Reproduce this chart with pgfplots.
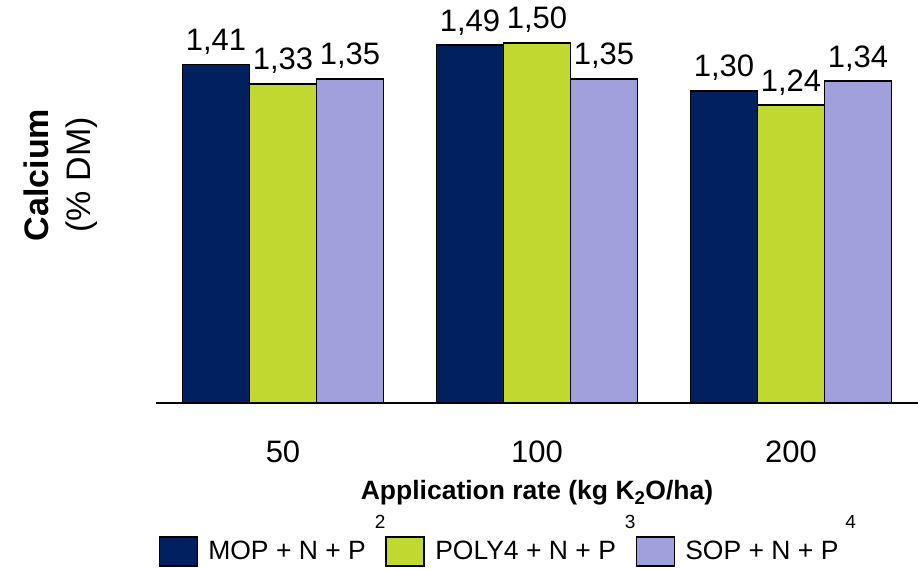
\documentclass[border=0pt]{standalone}
\usepackage{fontspec}
\setmainfont{Liberation Sans}
\usepackage{pgfplots}
\pgfplotsset{compat=1.18}
\definecolor{cMOP}{RGB}{0,32,96}
\definecolor{cPOLY}{RGB}{192,216,48}
\definecolor{cSOP}{RGB}{160,160,220}
\newcommand{\sups}[1]{\smash{\raisebox{31pt}{\fontsize{19}{19}\selectfont #1}}}
\begin{document}
\begin{tikzpicture}
\path[use as bounding box] (0pt,0pt) rectangle (918pt,570pt);
\begin{axis}[
  at={(156pt,167pt)}, anchor=south west,
  scale only axis, width=762pt, height=384pt,
  xmin=-0.5, xmax=2.5, ymin=0, ymax=1.6,
  axis x line*=bottom, axis y line=none,
  axis line style={line width=2.5pt, black},
  xtick={0,1,2}, xticklabels={50,100,200},
  major tick length=0pt,
  xticklabel style={font=\fontsize{31}{36}\selectfont, anchor=north, yshift=-38pt, inner sep=0pt},
  xlabel={\textbf{Application rate (kg K\textsubscript{2}O/ha)}},
  xlabel style={at={(rel axis cs:0.5,-0.2526)}, anchor=base, font=\fontsize{26.5}{30}\selectfont, inner sep=0pt},
  ybar=0pt, bar width=67pt,
  every axis plot/.append style={draw=black, line width=1.8pt},
  nodes near coords={\pgfmathprintnumber[fixed,fixed zerofill,precision=2,use comma,assume math mode=true]{\pgfplotspointmeta}},
  every node near coord/.append style={font=\fontsize{31}{36}\selectfont, anchor=base, yshift=14pt, inner sep=0pt, text=black},
  clip=false,
  legend columns=3,
  legend style={at={(rel axis cs:0.461,-0.427)}, anchor=south, draw=none, fill=none,
    font=\fontsize{26.5}{30}\selectfont, inner sep=0pt, nodes={inner sep=0pt},
    /tikz/every odd column/.style={column sep=10pt},
    /tikz/every even column/.style={column sep=0pt}},
  legend image code/.code={\draw[#1] (0pt,-14.5pt) rectangle (38pt,14.5pt);},
]
\addplot[fill=cMOP] coordinates {(0,1.41) (1,1.49) (2,1.30)};
\addplot[fill=cPOLY] coordinates {(0,1.33) (1,1.50) (2,1.24)};
\addplot[fill=cSOP] coordinates {(0,1.35) (1,1.35) (2,1.34)};
\legend{MOP + N + P\hspace{9pt}\sups{2},
        POLY4 + N + P\hspace{9pt}\sups{3},
        SOP + N + P\hspace{7pt}\sups{4}}
\node[rotate=90, align=center, font=\fontsize{34}{42}\selectfont] at (rel axis cs:-0.1247,0.594) {\textbf{Calcium}\\(\% DM)};
\end{axis}
\end{tikzpicture}
\end{document}
